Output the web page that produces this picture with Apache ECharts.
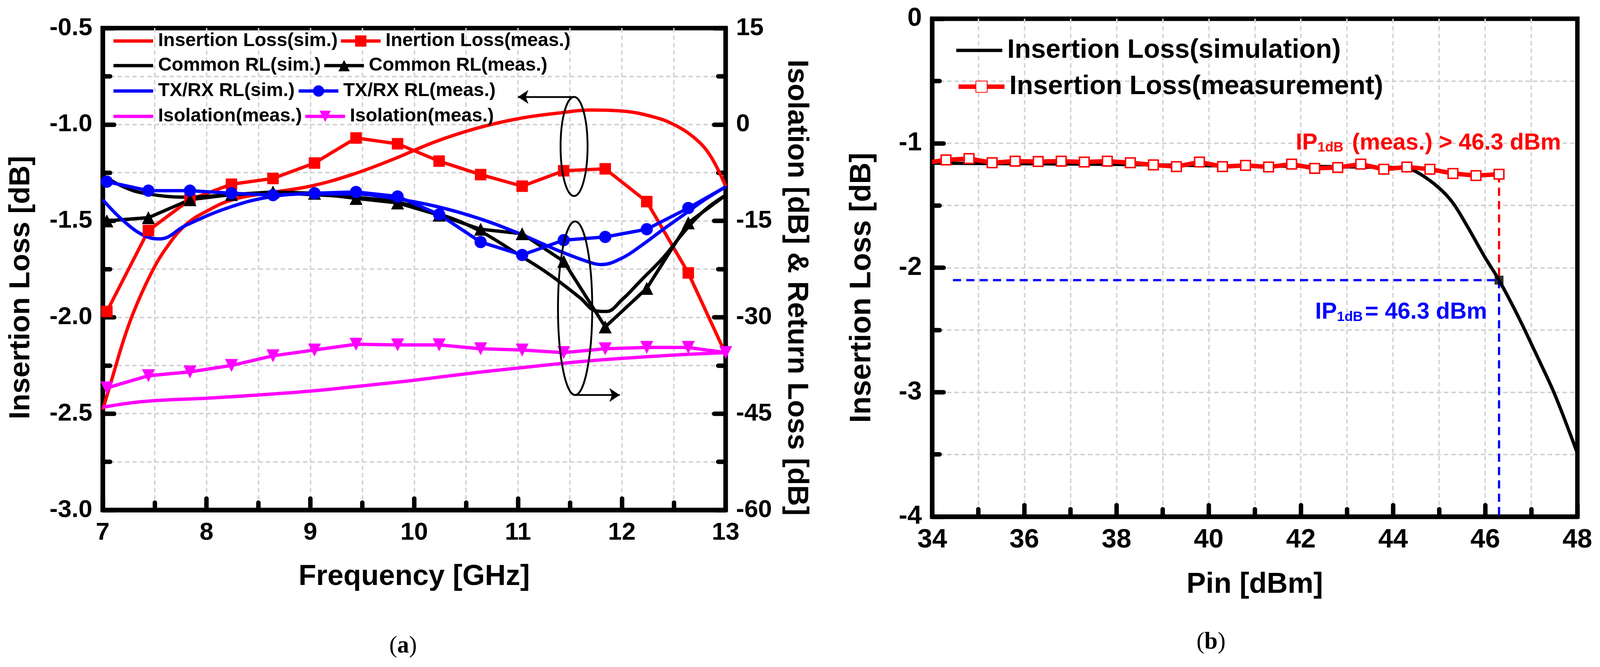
<!DOCTYPE html>
<html>
<head>
<meta charset="utf-8">
<title>Insertion loss / return loss / IP1dB</title>
<script src="https://cdn.jsdelivr.net/npm/echarts@6/dist/echarts.min.js"></script>
<style>
  html, body { margin: 0; padding: 0; background: #fff; overflow: hidden; }
  #chart { width: 100vw; height: 100vh; }
</style>
</head>
<body>
<div id="chart"></div>
<script>
// ---- (a) frequency response, measured points ----
var freqMeas = [7.04, 7.44, 7.84, 8.24, 8.64, 9.04, 9.44, 9.84, 10.24, 10.64, 11.04, 11.44, 11.84, 12.24, 12.64, 13.0];
var ilMeas     = [-1.97, -1.55, -1.39, -1.31, -1.28, -1.20, -1.07, -1.10, -1.19, -1.26, -1.32, -1.24, -1.23, -1.40, -1.77, -2.19];
var commonMeas = [-15.0, -14.5, -11.7, -10.9, -10.5, -10.7, -11.5, -12.2, -14.1, -16.3, -17.0, -21.3, -31.5, -25.5, -15.3, -11.0];
var txrxMeas   = [-8.9, -10.3, -10.3, -10.7, -11.0, -10.7, -10.5, -11.2, -14.0, -18.3, -20.3, -18.0, -17.5, -16.3, -13.0, -9.7];
var isoMeas    = [-41.0, -39.1, -38.5, -37.5, -36.0, -35.1, -34.2, -34.3, -34.3, -34.9, -35.1, -35.5, -34.9, -34.7, -34.7, -35.5];

// ---- (a) simulated curves ----
var ilSimFreq = [7.0, 7.1, 7.2, 7.3, 7.45, 7.6, 7.8, 8.0, 8.25, 8.6, 9.0, 9.4, 9.8, 10.2, 10.6, 11.0, 11.4, 11.7, 12.0, 12.3, 12.5, 12.7, 12.85, 13.0];
var ilSim     = [-2.48, -2.30, -2.12, -1.97, -1.79, -1.65, -1.52, -1.45, -1.39, -1.355, -1.32, -1.26, -1.18, -1.09, -1.02, -0.97, -0.94, -0.925, -0.93, -0.96, -1.0, -1.07, -1.16, -1.32];
var commonSimFreq = [7.0, 7.2, 7.4, 7.8, 8.2, 8.6, 9.0, 9.4, 9.8, 10.2, 10.6, 11.0, 11.3, 11.6, 11.75, 11.85, 12.0, 12.2, 12.4, 12.6, 12.8, 13.0];
var commonSim     = [-7.9, -9.7, -10.7, -11.3, -11.0, -10.7, -10.9, -11.3, -12.0, -13.7, -16.3, -20.2, -23.3, -27.0, -29.0, -29.1, -27.3, -24.0, -20.7, -16.7, -13.3, -11.0];
var txrxSimFreq = [7.0, 7.2, 7.4, 7.55, 7.8, 8.2, 8.6, 9.0, 9.4, 9.8, 10.2, 10.6, 11.0, 11.4, 11.7, 11.8, 12.0, 12.2, 12.4, 12.6, 12.8, 13.0];
var txrxSim     = [-11.7, -15.0, -17.3, -17.8, -15.7, -13.0, -11.3, -10.8, -10.8, -11.5, -12.7, -14.5, -16.9, -19.7, -21.5, -21.8, -20.8, -18.7, -16.3, -14.0, -11.7, -9.7];
var isoSimFreq = [7.0, 7.4, 8.0, 8.4, 9.0, 9.6, 10.0, 10.6, 11.0, 11.6, 12.0, 12.6, 13.0];
var isoSim     = [-44.0, -43.1, -42.6, -42.2, -41.5, -40.5, -39.8, -38.6, -37.9, -36.9, -36.4, -35.8, -35.5];

// ---- (a) annotation anchors (data units) ----
var arrowToLeft  = [[11.54, -0.857], [11.0, -0.857]];   // left axis
var arrowToRight = [[11.55, -42.1], [11.98, -42.1]];    // right axis
var ellipseIL = { cx: 11.54, cy: -1.114, rx: 0.13, ry: 0.257 };
var ellipseRL = { cx: 11.55, cy: -28.6, rx: 0.165, ry: 13.5 };

// ---- (b) power sweep ----
var pinSim   = [34, 36, 38, 40, 42, 43, 44, 44.3, 44.6, 45, 45.3, 45.6, 46, 46.3, 46.7, 47.1, 47.5, 48];
var ilPinSim = [-1.16, -1.165, -1.17, -1.18, -1.185, -1.19, -1.195, -1.2, -1.25, -1.36, -1.48, -1.66, -1.92, -2.1, -2.38, -2.69, -3.01, -3.49];
var pinMeas   = [34.0, 34.3, 34.8, 35.3, 35.8, 36.3, 36.8, 37.3, 37.8, 38.3, 38.8, 39.3, 39.8, 40.3, 40.8, 41.3, 41.8, 42.3, 42.8, 43.3, 43.8, 44.3, 44.8, 45.3, 45.8, 46.3];
var ilPinMeas = [-1.15, -1.134, -1.123, -1.157, -1.144, -1.147, -1.144, -1.151, -1.144, -1.157, -1.174, -1.188, -1.151, -1.188, -1.178, -1.191, -1.168, -1.202, -1.195, -1.168, -1.209, -1.191, -1.209, -1.243, -1.26, -1.249];
var ipPoint    = [46.3, -2.1];
var redDash    = [[46.3, -1.25], [46.3, -2.1]];
var blueDashH  = [[34.45, -2.1], [46.3, -2.1]];
var blueDashV  = [[46.3, -2.1], [46.3, -4.0]];
var ipMeasTextAt = [41.89, -1.0];
var ipSimTextAt  = [42.31, -2.36];

var FONT = "'Liberation Sans', Arial, sans-serif";
var SERIF = "'Liberation Serif', 'Times New Roman', serif";

// layout is written for a 4315x1708 page and scaled to the real viewport
var chart = echarts.init(document.getElementById('chart'), null, { renderer: 'canvas' });
var W = chart.getWidth(), H = chart.getHeight();
var sx = W / 4315, sy = H / 1708, s = Math.min(sx, sy);
function X(v) { return v * sx; }
function Y(v) { return v * sy; }
function S(v) { return v * s; }

function pairs(xs, ys, hideLast) {
    return xs.map(function (x, i) {
        if (hideLast && i === xs.length - 1) {
            return { value: [x, ys[i]], symbol: 'none' };
        }
        return [x, ys[i]];
    });
}

var grid = { color: '#d3d3d3', width: S(4), type: [S(12), S(8)] };

function axisOf(idx, min, max, interval, name, gap, size) {
    return {
        type: 'value', gridIndex: idx, min: min, max: max, interval: interval,
        name: name, nameLocation: 'middle', nameGap: gap,
        nameTextStyle: { fontFamily: FONT, fontWeight: 'bold', fontSize: S(78), color: '#000' },
        axisLine: { onZero: false, lineStyle: { color: '#000', width: S(12), cap: 'round' } },
        axisTick: { inside: true, length: S(31), lineStyle: { color: '#000', width: S(12), cap: 'round' } },
        minorTick: { show: true, splitNumber: 2, length: S(20), lineStyle: { color: '#000', width: S(12), cap: 'round' } },
        splitLine: { show: true, showMinLine: false, showMaxLine: false, lineStyle: grid },
        minorSplitLine: { show: true, lineStyle: grid },
        axisLabel: { fontFamily: FONT, fontWeight: 'bold', fontSize: S(size), color: '#000', margin: S(28) }
    };
}

var legendText = { fontFamily: FONT, fontWeight: 'bold', fontSize: S(51), color: '#000', lineHeight: S(56), padding: [0, 0, 0, S(8)] };
var legendTextB = { fontFamily: FONT, fontWeight: 'bold', fontSize: S(72), color: '#000', lineHeight: S(80), padding: [0, 0, 0, S(8)] };
// one legend per item: line-only entries get a plain bar, marker entries keep their symbol
function legendLine(name, left, centerY, style, w, lh) {
    return { data: [{ name: name, icon: 'rect' }], left: X(left), top: Y(centerY) - lh / 2,
             itemWidth: S(w), itemHeight: S(9), padding: 0, textStyle: style, selectedMode: false };
}
function legendMark(name, left, centerY, style, w, lh, lw) {
    return { data: [name], left: X(left), top: Y(centerY) - lh / 2,
             itemWidth: S(w), itemHeight: S(38), padding: 0, textStyle: style, selectedMode: false,
             lineStyle: { width: S(lw) } };
}

var option = {
    backgroundColor: '#fff',
    animation: false,
    grid: [
        { left: X(277), top: Y(72), width: X(1680), height: Y(1234), show: true, borderColor: '#000', borderWidth: S(12) },
        { left: X(2514), top: Y(48), width: X(1740), height: Y(1275), show: true, borderColor: '#000', borderWidth: S(12) }
    ],
    xAxis: [
        axisOf(0, 7, 13, 1, 'Frequency [GHz]', S(142), 67),
        axisOf(1, 34, 48, 2, 'Pin [dBm]', S(145), 72)
    ],
    yAxis: [
        Object.assign(axisOf(0, -3, -0.5, 0.5, 'Insertion Loss [dB]', S(180), 67), {
            nameRotate: 90,
            nameTextStyle: { fontFamily: FONT, fontWeight: 'bold', fontSize: S(78), color: '#000', padding: [0, S(100), 0, 0] },
            axisLabel: { fontFamily: FONT, fontWeight: 'bold', fontSize: S(67), color: '#000', margin: S(28),
                         formatter: function (v) { return v.toFixed(1); } }
        }),
        Object.assign(axisOf(0, -60, 15, 15, 'Isolation [dB] & Return Loss [dB]', S(151), 67), {
            position: 'right', nameRotate: -90,
            nameTextStyle: { fontFamily: FONT, fontWeight: 'bold', fontSize: S(78), color: '#000', padding: [0, 0, 0, S(100)] },
            splitLine: { show: false }, minorSplitLine: { show: false }
        }),
        Object.assign(axisOf(1, -4, 0, 1, 'Insertion Loss [dB]', S(149), 70), {
            nameRotate: 90,
            nameTextStyle: { fontFamily: FONT, fontWeight: 'bold', fontSize: S(80), color: '#000', padding: [0, S(108), 0, 0] }
        })
    ],
    legend: [
        legendLine('Insertion Loss(sim.)', 306, 105, legendText, 107, S(56)),
        legendMark('Inertion Loss(meas.)', 915, 105, legendText, 107, S(56), 9),
        legendLine('Common RL(sim.)', 306, 168, legendText, 107, S(56)),
        legendMark('Common RL(meas.)', 870, 168, legendText, 107, S(56), 9),
        legendLine('TX/RX RL(sim.)', 306, 233, legendText, 107, S(56)),
        legendMark('TX/RX RL(meas.)', 801, 233, legendText, 107, S(56), 9),
        legendLine('Isolation(meas.)', 306, 298, legendText, 107, S(56)),
        legendMark('Isolation(meas.) ', 819, 298, legendText, 107, S(56), 9),
        legendLine('Insertion Loss(simulation)', 2579, 129, legendTextB, 124, S(80)),
        legendMark('Insertion Loss(measurement)', 2579, 222, legendTextB, 124, S(80), 12)
    ],
    series: [
        { name: 'Insertion Loss(sim.)', type: 'line', xAxisIndex: 0, yAxisIndex: 0, smooth: 0.4,
          data: pairs(ilSimFreq, ilSim), symbol: 'none',
          lineStyle: { color: '#ff0000', width: S(9) }, itemStyle: { color: '#ff0000' } },
        { name: 'Inertion Loss(meas.)', type: 'line', xAxisIndex: 0, yAxisIndex: 0,
          data: pairs(freqMeas, ilMeas, true), symbol: 'rect', symbolSize: S(31),
          lineStyle: { color: '#ff0000', width: S(9) }, itemStyle: { color: '#ff0000' } },
        { name: 'Common RL(sim.)', type: 'line', xAxisIndex: 0, yAxisIndex: 1, smooth: 0.4,
          data: pairs(commonSimFreq, commonSim), symbol: 'none',
          lineStyle: { color: '#000', width: S(9) }, itemStyle: { color: '#000' } },
        { name: 'Common RL(meas.)', type: 'line', xAxisIndex: 0, yAxisIndex: 1,
          data: pairs(freqMeas, commonMeas, true), symbol: 'triangle', symbolSize: S(35),
          lineStyle: { color: '#000', width: S(9) }, itemStyle: { color: '#000' } },
        { name: 'TX/RX RL(sim.)', type: 'line', xAxisIndex: 0, yAxisIndex: 1, smooth: 0.4,
          data: pairs(txrxSimFreq, txrxSim), symbol: 'none',
          lineStyle: { color: '#0000ff', width: S(9) }, itemStyle: { color: '#0000ff' } },
        { name: 'TX/RX RL(meas.)', type: 'line', xAxisIndex: 0, yAxisIndex: 1,
          data: pairs(freqMeas, txrxMeas, true), symbol: 'circle', symbolSize: S(33),
          lineStyle: { color: '#0000ff', width: S(9) }, itemStyle: { color: '#0000ff' } },
        { name: 'Isolation(meas.)', type: 'line', xAxisIndex: 0, yAxisIndex: 1, smooth: 0.4,
          data: pairs(isoSimFreq, isoSim), symbol: 'none',
          lineStyle: { color: '#ff00ff', width: S(9) }, itemStyle: { color: '#ff00ff' } },
        { name: 'Isolation(meas.) ', type: 'line', xAxisIndex: 0, yAxisIndex: 1,
          data: pairs(freqMeas, isoMeas), symbol: 'triangle', symbolRotate: 180, symbolSize: S(35),
          lineStyle: { color: '#ff00ff', width: S(9) }, itemStyle: { color: '#ff00ff' } },
        { type: 'lines', coordinateSystem: 'cartesian2d', xAxisIndex: 0, yAxisIndex: 0, silent: true, z: 5,
          data: [{ coords: arrowToLeft }], symbol: ['none', 'arrow'], symbolSize: S(28),
          lineStyle: { color: '#000', width: S(5), opacity: 1 } },
        { type: 'lines', coordinateSystem: 'cartesian2d', xAxisIndex: 0, yAxisIndex: 1, silent: true, z: 5,
          data: [{ coords: arrowToRight }], symbol: ['none', 'arrow'], symbolSize: S(28),
          lineStyle: { color: '#000', width: S(5), opacity: 1 } },

        { name: 'Insertion Loss(simulation)', type: 'line', xAxisIndex: 1, yAxisIndex: 2, smooth: 0.3,
          data: pairs(pinSim, ilPinSim), symbol: 'none',
          lineStyle: { color: '#000', width: S(9) }, itemStyle: { color: '#000' } },
        { type: 'line', xAxisIndex: 1, yAxisIndex: 2, data: redDash, symbol: 'none', silent: true,
          lineStyle: { color: '#ff0000', width: S(6), type: [S(22), S(14)] } },
        { type: 'line', xAxisIndex: 1, yAxisIndex: 2, data: blueDashH, symbol: 'none', silent: true,
          lineStyle: { color: '#0000ff', width: S(6), type: [S(22), S(14)] } },
        { type: 'line', xAxisIndex: 1, yAxisIndex: 2, data: blueDashV, symbol: 'none', silent: true,
          lineStyle: { color: '#0000ff', width: S(6), type: [S(22), S(14)] } },
        { name: 'Insertion Loss(measurement)', type: 'line', xAxisIndex: 1, yAxisIndex: 2,
          data: pairs(pinMeas, ilPinMeas).map(function (p, i) { return i === 0 ? { value: p, symbol: 'none' } : p; }),
          symbol: 'rect', symbolSize: S(26),
          lineStyle: { color: '#ff0000', width: S(12) },
          itemStyle: { color: '#fff', borderColor: '#ff0000', borderWidth: S(4) } },
        { type: 'scatter', xAxisIndex: 1, yAxisIndex: 2, data: [ipPoint], symbol: 'rect', symbolSize: S(24),
          itemStyle: { color: '#000' }, z: 6 }
    ]
};
chart.setOption(option);

// annotations placed from data-space anchors
function px(axes, p) { return chart.convertToPixel(axes, p); }
var leftAxes = { xAxisIndex: 0, yAxisIndex: 0 };
var rightAxes = { xAxisIndex: 0, yAxisIndex: 1 };
var pinAxes = { xAxisIndex: 1, yAxisIndex: 2 };

function ellipseShape(axes, e) {
    var c = px(axes, [e.cx, e.cy]);
    var ex = px(axes, [e.cx + e.rx, e.cy]);
    var ey = px(axes, [e.cx, e.cy + e.ry]);
    return {
        type: 'ellipse', silent: true, z: 20,
        shape: { cx: c[0], cy: c[1], rx: Math.abs(ex[0] - c[0]), ry: Math.abs(ey[1] - c[1]) },
        style: { fill: null, stroke: '#000', lineWidth: S(5) }
    };
}

function ipText(at, main, tail, color) {
    var p = px(pinAxes, at);
    return { type: 'text', z: 20, x: p[0], y: p[1],
             style: { text: '{m|' + main + '}{s|1dB}{m|' + tail + '}', align: 'left', verticalAlign: 'middle',
                      rich: { m: { fontFamily: FONT, fontWeight: 'bold', fontSize: S(62), fill: color },
                              s: { fontFamily: FONT, fontWeight: 'bold', fontSize: S(37), fill: color,
                                   verticalAlign: 'bottom', lineHeight: S(62), padding: [0, S(6), 0, 0] } } } };
}

function caption(letter, cx, cy) {
    return { type: 'text', z: 20, x: X(cx), y: Y(cy),
             style: { text: '(' + '{b|' + letter + '})', align: 'center', verticalAlign: 'middle',
                      fontFamily: SERIF, fontSize: S(64), fill: '#000',
                      rich: { b: { fontFamily: SERIF, fontWeight: 'bold', fontSize: S(64), fill: '#000' } } } };
}

chart.setOption({
    graphic: [
        ellipseShape(leftAxes, ellipseIL),
        ellipseShape(rightAxes, ellipseRL),
        ipText(ipMeasTextAt, 'IP', ' (meas.) > 46.3 dBm', '#ff0000'),
        ipText(ipSimTextAt, 'IP', '= 46.3 dBm', '#0000ff'),
        caption('a', 1087, 1655),
        caption('b', 3266, 1645)
    ]
});
</script>
</body>
</html>
